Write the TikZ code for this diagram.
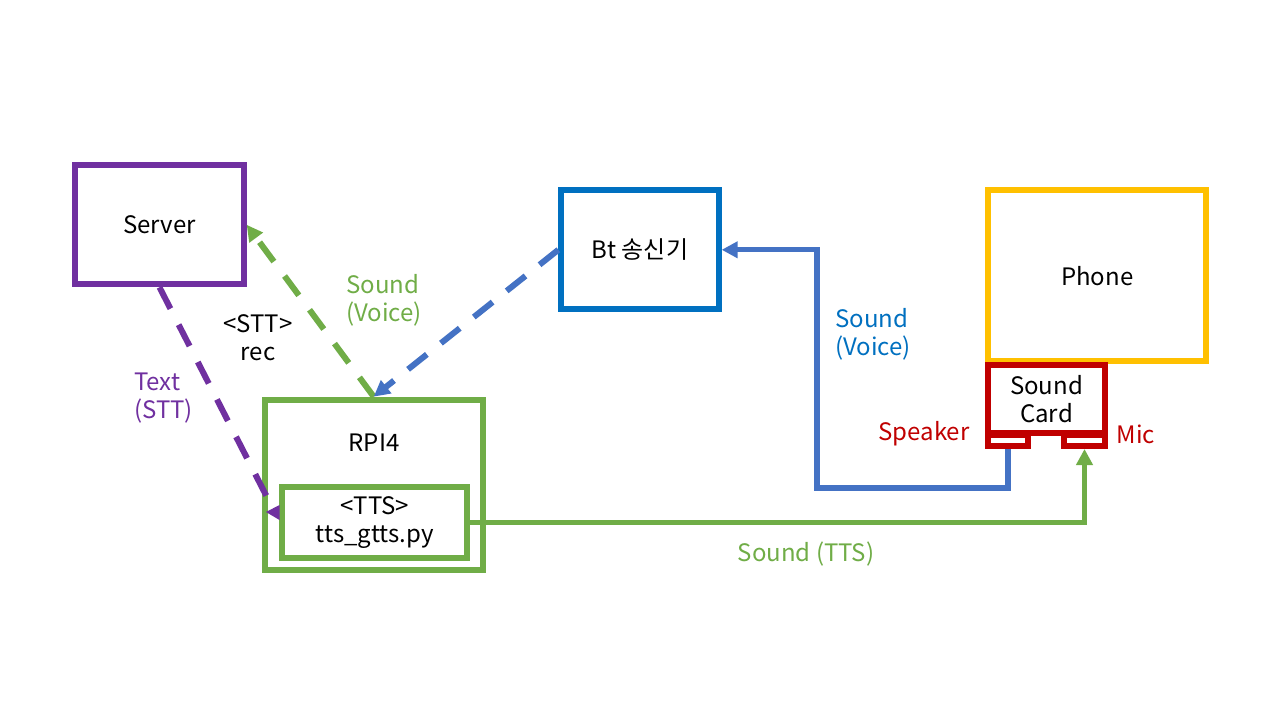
\documentclass[tikz,border=0pt]{standalone}
\usepackage{fontspec}
\setmainfont{Noto Sans CJK KR}
\usetikzlibrary{arrows.meta}
\definecolor{cpurple}{HTML}{7030A0}
\definecolor{cgreen}{HTML}{70AD47}
\definecolor{cbt}{HTML}{0070C0}
\definecolor{cconn}{HTML}{4472C4}
\definecolor{cyellow}{HTML}{FFC000}
\definecolor{cred}{HTML}{C00000}
\begin{document}
\begin{tikzpicture}[x=0.75pt,y=-0.75pt,
  font=\fontsize{18pt}{21pt}\selectfont,
  box/.style={draw, line width=4.5pt, fill=white, inner sep=0pt, align=center},
  dashline/.style={line width=4.5pt, dash pattern=on 18pt off 13.5pt},
  solidline/.style={line width=4pt},
  tipend/.style={-{Triangle[length=12pt,width=12pt]}},
  lbl/.style={inner sep=0pt, align=left},
  clbl/.style={inner sep=0pt, align=center}]
\useasboundingbox (0,0) rectangle (1280,720);
\fill[white] (0,0) rectangle (1280,720);

% boxes
\node[box, draw=cpurple, minimum width=126.3pt, minimum height=89.25pt] (server) at (159.5,224.8) {Server};
\node[box, draw=cbt, minimum width=118pt, minimum height=89.25pt] (bt) at (640,249.8) {Bt 송신기};
\node[box, draw=cgreen, minimum width=163.5pt, minimum height=128pt] (rpi) at (373.7,485) {};
\node[clbl] (rpilabel) at (374,443) {RPI4};
\node[box, draw=cgreen, minimum width=138.5pt, minimum height=53pt] (tts) at (374.7,522.3) {<TTS>\\tts\_gtts.py};
\node[box, draw=cyellow, minimum width=163.7pt, minimum height=128.25pt] (phone) at (1097.2,275.8) {Phone};
\node[box, draw=cred, minimum width=87.75pt, minimum height=51pt] (card) at (1046.5,399) {Sound\\Card};
\node[box, draw=cred, minimum width=30pt, minimum height=8.25pt] (spk) at (1008,440.5) {};
\node[box, draw=cred, minimum width=30.75pt, minimum height=8.25pt] (mic) at (1084.5,440.5) {};

% connectors
\draw[cgreen, dashline, tipend] (rpi.north) -- (server.east);
\draw[cconn, dashline, tipend] (bt.west) -- (rpi.north);
\coordinate (pend) at (270,503);
\draw[cpurple, dashline] (server.south) -- (pend);
\fill[cpurple] (266,512) -- (279.5,505) -- (279.5,520) -- cycle;
\coordinate (bend1) at (817,488);
\draw[cconn, solidline, tipend] (spk.south) |- (bend1) |- (bt.east);
\draw[cgreen, solidline, tipend] (tts.east) -| (mic.south);

% labels
\node[clbl] (stt) at (258,338) {<STT>\\rec};
\node[lbl, text=cgreen, anchor=west] (voice1) at (346,300) {Sound\\(Voice)};
\node[lbl, text=cpurple, anchor=west] (textstt) at (134,398) {Text\\(STT)};
\node[lbl, text=cbt, anchor=west] (voice2) at (835,334) {Sound\\(Voice)};
\node[clbl, text=cred] (speaker) at (924,434) {Speaker};
\node[clbl, text=cred] (miclbl) at (1136,434) {Mic};
\node[clbl, text=cgreen] (ttslbl) at (806,554) {Sound (TTS)};
\end{tikzpicture}
\end{document}
